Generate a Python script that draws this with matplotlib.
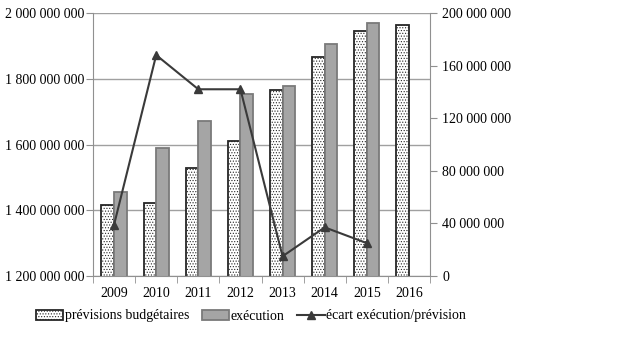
import numpy as np
import matplotlib.pyplot as plt
from matplotlib.ticker import FuncFormatter

plt.rcParams['font.family'] = ['Liberation Serif', 'DejaVu Serif']
plt.rcParams['hatch.color'] = '#c0c0c0'
plt.rcParams['hatch.linewidth'] = 0.5

annees = ['2009', '2010', '2011', '2012', '2013', '2014', '2015', '2016']
previsions = [1416e6, 1421e6, 1528e6, 1611e6, 1766e6, 1866e6, 1945e6, 1964e6]
execution = [1455e6, 1588e6, 1671e6, 1754e6, 1778e6, 1906e6, 1970e6, np.nan]
ecart = [39e6, 168e6, 142e6, 142e6, 15e6, 37e6, 25e6, np.nan]


def espaces(v, pos):
    return '{:,.0f}'.format(v).replace(',', ' ')


fig = plt.figure(figsize=(6.34, 3.41), dpi=100)
ax = fig.add_axes([93 / 634, 1 - 276 / 341, 337 / 634, 263 / 341])
ax2 = ax.twinx()

x = np.arange(len(annees))
w = 0.3
ax.bar(x - w / 2, previsions, w, color='white', edgecolor='#262626', linewidth=1.3,
       hatch='......', label='prévisions budgétaires', zorder=2)
ax.bar(x + w / 2, execution, w, color='#a5a5a5', edgecolor='#7a7a7a', linewidth=1.3,
       label='exécution', zorder=2)
ax2.plot(x, ecart, color='#3a3a3a', linewidth=1.5, marker='^', markersize=6,
         label='écart exécution/prévision')

ax.set_xlim(-0.5, len(annees) - 0.5)
ax.set_ylim(1.2e9, 2.0e9)
ax.set_yticks(np.arange(1.2e9, 2.01e9, 2e8))
ax.yaxis.set_major_formatter(FuncFormatter(espaces))
ax.grid(axis='y', color='#a0a0a0', linewidth=1)
ax.set_axisbelow(True)

ax2.set_ylim(0, 2e8)
ax2.set_yticks(np.arange(0, 2.01e8, 4e7))
ax2.yaxis.set_major_formatter(FuncFormatter(espaces))

ax.set_xticks(x)
ax.set_xticklabels(annees)
ax.set_xticks(np.arange(-0.5, len(annees), 1), minor=True)
ax.tick_params(axis='x', which='major', length=0, pad=8, labelsize=10)
ax.tick_params(axis='x', which='minor', length=5, color='#909090')
ax.tick_params(axis='y', length=5, color='#909090', labelsize=10, pad=1)
ax2.tick_params(axis='y', length=5, color='#909090', labelsize=10, pad=4)

for a in (ax, ax2):
    a.spines['top'].set_visible(False)
    for s in ('left', 'right', 'bottom'):
        a.spines[s].set_color('#909090')
ax.spines['right'].set_visible(False)
ax2.spines['left'].set_visible(False)
ax2.spines['bottom'].set_visible(False)

h1, l1 = ax.get_legend_handles_labels()
h2, l2 = ax2.get_legend_handles_labels()
fig.legend(h1 + h2, l1 + l2, loc='center left', bbox_to_anchor=(30 / 634, 1 - 316 / 341),
           ncol=3, frameon=False, fontsize=10, handlelength=2.0, handletextpad=0.1,
           columnspacing=0.9, borderaxespad=0)

fig.savefig('out.png', dpi=100)
